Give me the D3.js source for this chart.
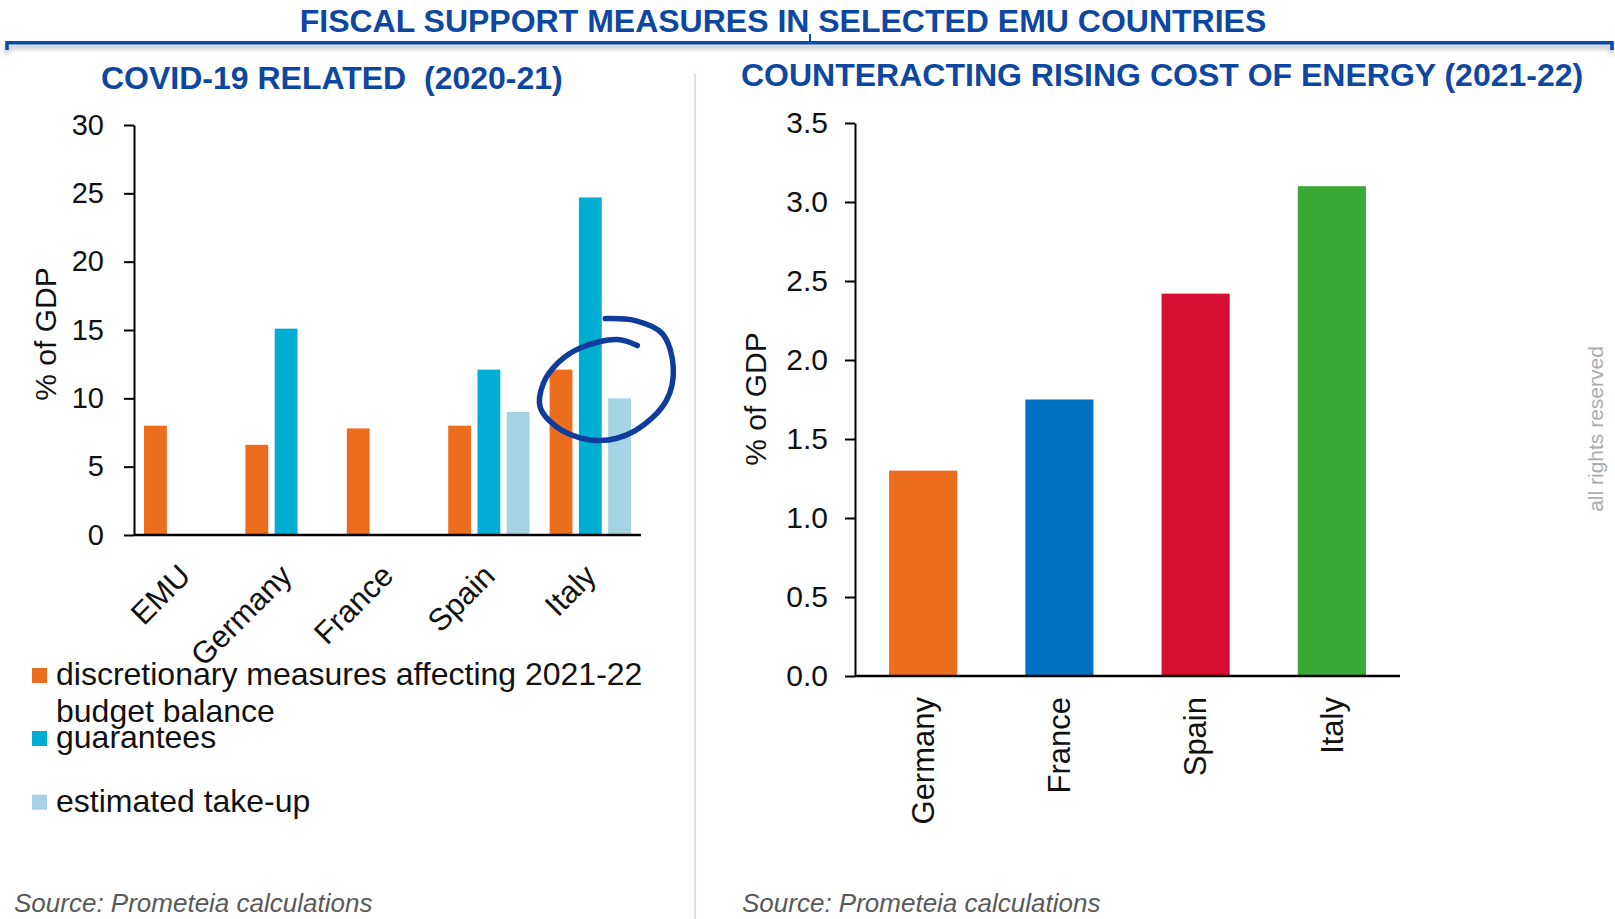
<!DOCTYPE html>
<html>
<head>
<meta charset="utf-8">
<script src="https://cdn.jsdelivr.net/npm/d3@7"></script>
<style>
  html, body { margin: 0; padding: 0; background: #ffffff; }
  svg { display: block; font-family: "Liberation Sans", Arial, sans-serif; }
</style>
</head>
<body>
<svg id="chart" width="1615" height="919"></svg>
<script>
// ---- COVID-19 related support, 2020-21 (% of GDP) ----
const covidCountries = ["EMU", "Germany", "France", "Spain", "Italy"];
const discretionary = [8.0, 6.6, 7.8, 8.0, 12.1];
const guarantees = [null, 15.1, null, 12.1, 24.7];
const takeUp = [null, null, null, 9.0, 10.0];
const covidTicks = [0, 5, 10, 15, 20, 25, 30];
const covidSeriesNames = ["discretionary measures affecting 2021-22 budget balance", "guarantees", "estimated take-up"];
const covidLegendLines = [["discretionary measures affecting 2021-22", "budget balance"], ["guarantees"], ["estimated take-up"]];
const covidColors = ["#ED6D1E", "#00AED3", "#A6D2E6"];

// ---- Measures against rising energy costs, 2021-22 (% of GDP) ----
const energyCountries = ["Germany", "France", "Spain", "Italy"];
const energyValues = [1.30, 1.75, 2.42, 3.10];
const energyTicks = [0, 0.5, 1.0, 1.5, 2.0, 2.5, 3.0, 3.5];
const energyColors = ["#ED6D1E", "#0070C0", "#D80F33", "#3AA935"];

const BLUE = "#0D47A1";
const svg = d3.select("#chart");

// drop shadow under the header rule
const defs = svg.append("defs");
defs.append("filter").attr("id", "ruleShadow")
  .attr("x", "-2%").attr("y", "-200%").attr("width", "104%").attr("height", "600%")
  .append("feDropShadow")
  .attr("dx", 0).attr("dy", 4).attr("stdDeviation", 2.5)
  .attr("flood-color", "#000").attr("flood-opacity", 0.3);

// ---- header ----
svg.append("text")
  .attr("x", 783).attr("y", 32)
  .attr("text-anchor", "middle")
  .attr("font-size", 32).attr("font-weight", "bold")
  .attr("fill", BLUE)
  .text("FISCAL SUPPORT MEASURES IN SELECTED EMU COUNTRIES");

svg.append("path")
  .attr("d", "M7,50 L7,42.7 L1612,42.7 L1612,50")
  .attr("fill", "none").attr("stroke", "#0B4BA3").attr("stroke-width", 3.5)
  .attr("filter", "url(#ruleShadow)");
svg.append("line")
  .attr("x1", 810).attr("x2", 810).attr("y1", 34).attr("y2", 43)
  .attr("stroke", "#0B4BA3").attr("stroke-width", 2);

// vertical divider between the two panels
svg.append("line")
  .attr("x1", 695).attr("x2", 695).attr("y1", 74).attr("y2", 919)
  .attr("stroke", "#C9D6EC").attr("stroke-width", 1.5);

// panel subtitles
svg.append("text")
  .attr("x", 101).attr("y", 89)
  .attr("xml:space", "preserve").style("white-space", "pre")
  .attr("font-size", 32).attr("font-weight", "bold").attr("fill", BLUE)
  .text("COVID-19 RELATED  (2020-21)");
svg.append("text")
  .attr("x", 741).attr("y", 86)
  .attr("font-size", 32).attr("font-weight", "bold").attr("fill", BLUE)
  .text("COUNTERACTING RISING COST OF ENERGY (2021-22)");

// ================= Left panel: grouped bars =================
const left = svg.append("g");
const x0 = d3.scaleBand().domain(covidCountries).range([134, 641])
  .paddingInner(0.134).paddingOuter(0.067);
const x1 = d3.scaleBand().domain(d3.range(covidSeriesNames.length)).range([0, x0.bandwidth()])
  .paddingInner(0.22).paddingOuter(0.11);
const yL = d3.scaleLinear().domain([0, 30]).range([535, 125]);

const covidData = [discretionary, guarantees, takeUp];
covidData.forEach((vals, s) => {
  left.append("g").selectAll("rect")
    .data(covidCountries.map((c, i) => ({ c, v: vals[i] })).filter(d => d.v != null))
    .join("rect")
    .attr("x", d => x0(d.c) + x1(s))
    .attr("y", d => yL(d.v))
    .attr("width", x1.bandwidth())
    .attr("height", d => yL(0) - yL(d.v))
    .attr("fill", covidColors[s]);
});

const yAxisL = left.append("g")
  .attr("transform", "translate(134,0)")
  .call(d3.axisLeft(yL).tickValues(covidTicks).tickSize(10).tickSizeOuter(0).tickPadding(20));
yAxisL.select(".domain").attr("stroke", "#000").attr("stroke-width", 2);
yAxisL.selectAll(".tick line").attr("stroke", "#000").attr("stroke-width", 2);
yAxisL.selectAll(".tick text")
  .attr("font-size", 29).attr("font-family", "Liberation Sans, Arial, sans-serif").attr("fill", "#111");

left.append("line")
  .attr("x1", x0.range()[0]).attr("x2", x0.range()[1])
  .attr("y1", yL(0)).attr("y2", yL(0))
  .attr("stroke", "#000").attr("stroke-width", 2.5);

left.selectAll(".cat")
  .data(covidCountries)
  .join("text")
  .attr("class", "cat")
  .attr("transform", d => `translate(${x0(d) + x0.bandwidth() / 2},570) rotate(-45)`)
  .attr("text-anchor", "end").attr("dy", "0.35em")
  .attr("font-size", 31).attr("fill", "#111")
  .text(d => d);

left.append("text")
  .attr("transform", "translate(56,334) rotate(-90)")
  .attr("text-anchor", "middle")
  .attr("font-size", 30).attr("fill", "#111")
  .text("% of GDP");

// hand-drawn loop highlighting Italy (offsets around the Italy group)
const loopOffsets = [[47,-35],[27,-41],[-9,-33],[-32,-18],[-47,3],[-50,27],[-28,50],[9,60],[45,50],[76,20],[83,-13],[72,-47],[45,-60],[15,-62]];
const loopCx = x0("Italy") + x0.bandwidth() / 2;
const loopCy = yL(11.3);
left.append("path")
  .attr("d", d3.line().curve(d3.curveCatmullRom.alpha(0.5))(loopOffsets.map(p => [loopCx + p[0], loopCy + p[1]])))
  .attr("fill", "none").attr("stroke", "#0E3C9C").attr("stroke-width", 5.5)
  .attr("stroke-linecap", "round").attr("stroke-linejoin", "round");

// legend
const legendBase = [685, 748, 811.7];
covidLegendLines.forEach((lines, i) => {
  const g = svg.append("g");
  g.append("rect")
    .attr("x", 32).attr("y", legendBase[i] - 17).attr("width", 15).attr("height", 15)
    .attr("fill", covidColors[i]);
  lines.forEach((ln, k) => {
    g.append("text")
      .attr("x", 56).attr("y", legendBase[i] + k * 37)
      .attr("font-size", 32).attr("fill", "#111")
      .text(ln);
  });
});

// ================= Right panel: single bars =================
const right = svg.append("g");
const xR = d3.scaleBand().domain(energyCountries).range([855, 1400])
  .paddingInner(0.5).paddingOuter(0.25);
const yR = d3.scaleLinear().domain([0, 3.5]).range([676, 123]);

right.selectAll("rect")
  .data(energyCountries.map((c, i) => ({ c, v: energyValues[i], col: energyColors[i] })))
  .join("rect")
  .attr("x", d => xR(d.c))
  .attr("y", d => yR(d.v))
  .attr("width", xR.bandwidth())
  .attr("height", d => yR(0) - yR(d.v))
  .attr("fill", d => d.col);

const yAxisR = right.append("g")
  .attr("transform", "translate(855,0)")
  .call(d3.axisLeft(yR).tickValues(energyTicks).tickFormat(d3.format(".1f")).tickSize(10).tickSizeOuter(0).tickPadding(17));
yAxisR.select(".domain").attr("stroke", "#000").attr("stroke-width", 2);
yAxisR.selectAll(".tick line").attr("stroke", "#000").attr("stroke-width", 2);
yAxisR.selectAll(".tick text")
  .attr("font-size", 30).attr("font-family", "Liberation Sans, Arial, sans-serif").attr("fill", "#111");

right.append("line")
  .attr("x1", xR.range()[0]).attr("x2", xR.range()[1])
  .attr("y1", yR(0)).attr("y2", yR(0))
  .attr("stroke", "#000").attr("stroke-width", 2.5);

right.selectAll(".cat")
  .data(energyCountries)
  .join("text")
  .attr("class", "cat")
  .attr("transform", d => `translate(${xR(d) + xR.bandwidth() / 2},697) rotate(-90)`)
  .attr("text-anchor", "end").attr("dy", "0.35em")
  .attr("font-size", 31).attr("fill", "#111")
  .text(d => d);

right.append("text")
  .attr("transform", "translate(766,399) rotate(-90)")
  .attr("text-anchor", "middle")
  .attr("font-size", 30).attr("fill", "#111")
  .text("% of GDP");

// sources and rights notice
[14, 742].forEach(x => {
  svg.append("text")
    .attr("x", x).attr("y", 912)
    .attr("font-size", 26).attr("font-style", "italic").attr("fill", "#595959")
    .text("Source: Prometeia calculations");
});

svg.append("text")
  .attr("transform", "translate(1603,429) rotate(-90)")
  .attr("text-anchor", "middle")
  .attr("font-size", 21).attr("fill", "#ABABAB")
  .text("all rights reserved");
</script>
</body>
</html>
